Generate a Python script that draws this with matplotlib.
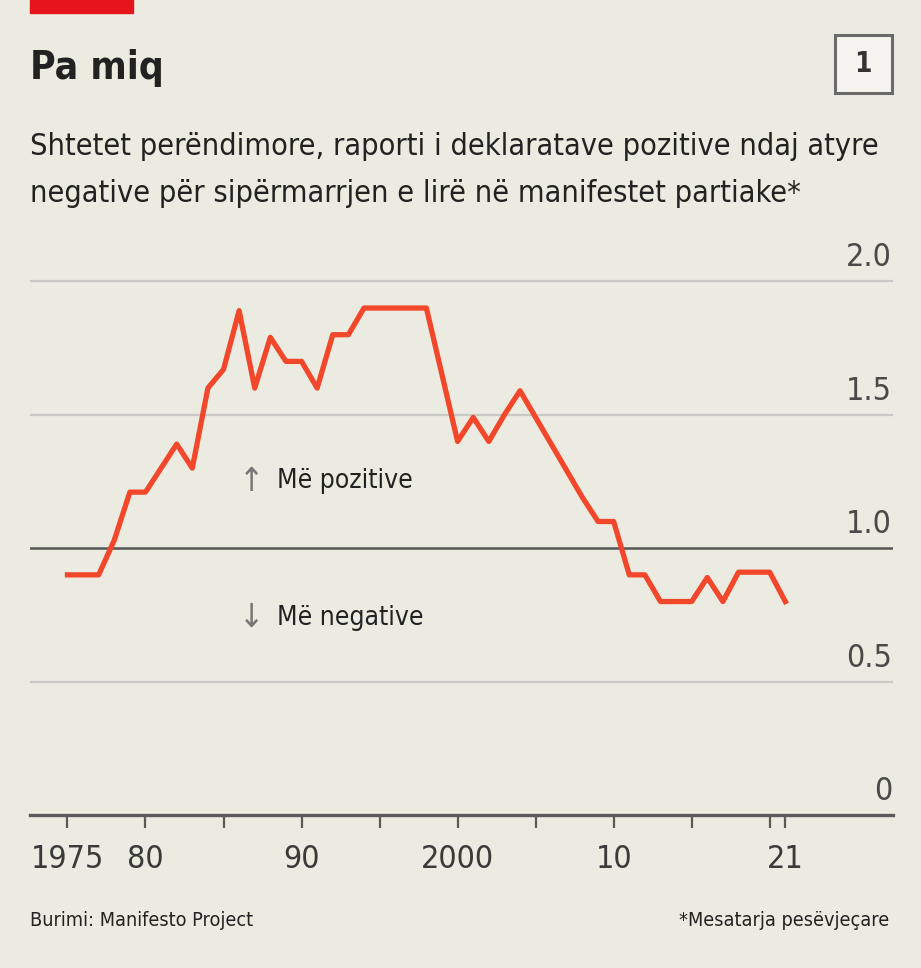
import numpy as np
import matplotlib
matplotlib.use("Agg")
import matplotlib.pyplot as plt
import matplotlib.transforms as mtransforms
from matplotlib.patches import Rectangle

# data (five-year average ratio)
years = np.arange(1975, 2022)
ratio = [0.90, 0.90, 0.90, 1.03, 1.21, 1.21, 1.30, 1.39, 1.30, 1.60,
         1.67, 1.89, 1.60, 1.79, 1.70, 1.70, 1.60, 1.80, 1.80, 1.90,
         1.90, 1.90, 1.90, 1.90, 1.65, 1.40, 1.49, 1.40, 1.50, 1.59,
         1.49, 1.39, 1.29, 1.19, 1.10, 1.10, 0.90, 0.90, 0.80, 0.80,
         0.80, 0.89, 0.80, 0.91, 0.91, 0.91, 0.80]

y_ticks = [0, 0.5, 1.0, 1.5, 2.0]
y_labels = ["0", "0.5", "1.0", "1.5", "2.0"]
x_ticks = list(range(1975, 2021, 5)) + [2021]
x_labels = {1975: "1975", 1980: "80", 1990: "90", 2000: "2000", 2010: "10", 2021: "21"}

title = "Pa miq"
subtitle = ("Shtetet perëndimore, raporti i deklaratave pozitive ndaj atyre\n"
            "negative për sipërmarrjen e lirë në manifestet partiake*")
source = "Burimi: Manifesto Project"
note = "*Mesatarja pesëvjeçare"

bg = "#ecebe1"
red = "#f2472b"
dark = "#222222"

plt.rcParams['font.family'] = ['DejaVu Sans']
plt.rcParams['font.stretch'] = 'condensed'

W, H = 921, 968
fig = plt.figure(figsize=(W / 100, H / 100), dpi=100, facecolor=bg)
ax = fig.add_axes([30 / W, 153 / H, 863 / W, 547 / H], facecolor=bg)

ax.set_xlim(1972.6, 2027.9)
ax.set_ylim(0, 2.05)

# gridlines
for v in y_ticks[1:]:
    if v == 1.0:
        ax.axhline(v, color="#555555", lw=1.8, zorder=2)
    else:
        ax.axhline(v, color="#c9c9c6", lw=1.6, zorder=1)

ax.plot(years, ratio, color=red, lw=3.8, zorder=3)

for s in ["top", "left", "right"]:
    ax.spines[s].set_visible(False)
ax.spines["bottom"].set_color("#5a5a5a")
ax.spines["bottom"].set_linewidth(2.4)

ax.set_yticks([])
ax.set_xticks(x_ticks)
ax.set_xticklabels([x_labels.get(t, "") for t in x_ticks])
ax.tick_params(axis='x', length=9, width=1.6, color="#5a5a5a", pad=12,
               labelsize=23, labelcolor="#3a3a3a")

trans = mtransforms.blended_transform_factory(ax.transAxes, ax.transData)
for v, lab in zip(y_ticks, y_labels):
    ax.text(0.999, v + 0.03, lab, transform=trans, ha='right', va='bottom',
            fontsize=23, color="#4a4a4a")

# annotations
ax.text(1986.8, 1.25, "↑", fontsize=24, color="#777777", va='center', ha='center')
ax.text(1988.4, 1.25, "Më pozitive", fontsize=19, color=dark, va='center', ha='left')
ax.text(1986.8, 0.74, "↓", fontsize=24, color="#777777", va='center', ha='center')
ax.text(1988.4, 0.74, "Më negative", fontsize=19, color=dark, va='center', ha='left')

# header
fig.patches.append(Rectangle((30 / W, 1 - 13 / H), 103 / W, 13 / H,
                             transform=fig.transFigure, color="#e8141b"))
fig.text(30 / W, 1 - 68 / H, title, fontsize=28, fontweight='bold', color=dark,
         va='center', ha='left')
fig.patches.append(Rectangle((835 / W, 1 - 93 / H), 57 / W, 58 / H,
                             transform=fig.transFigure, facecolor="#f4f3ee",
                             edgecolor="#6a6a6a", lw=2.2))
fig.text(863 / W, 1 - 64 / H, "1", fontsize=20, fontweight='bold', color="#333333",
         va='center', ha='center')
fig.text(30 / W, 1 - 170 / H, subtitle, fontsize=22, color=dark, va='center',
         ha='left', linespacing=1.8)

fig.text(30 / W, 1 - 921 / H, source, fontsize=14.2, color=dark, va='center', ha='left')
fig.text(889 / W, 1 - 921 / H, note, fontsize=14.2, color=dark, va='center', ha='right')

fig.savefig("out.png", dpi=100, facecolor=bg)
